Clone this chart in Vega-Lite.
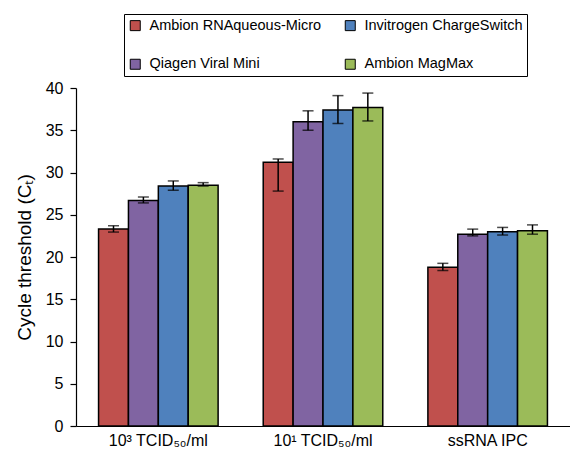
{
  "$schema": "https://vega.github.io/schema/vega-lite/v6.json",
  "autosize": "none",
  "width": 494,
  "height": 338,
  "padding": {"left": 76, "top": 88, "right": 0, "bottom": 26},
  "background": "white",
  "config": {
    "font": "Liberation Sans",
    "view": {"stroke": null},
    "axis": {"grid": false, "domainColor": "black", "tickColor": "black", "labelColor": "black", "titleColor": "black", "domainWidth": 1.2, "tickWidth": 1.2}
  },
  "data": {
    "values": [
      {"group": "10³ TCID₅₀/ml", "method": "Ambion RNAqueous-Micro", "ct": 23.3, "lo": 22.95, "hi": 23.7},
      {"group": "10³ TCID₅₀/ml", "method": "Qiagen Viral Mini", "ct": 26.7, "lo": 26.4, "hi": 27.1},
      {"group": "10³ TCID₅₀/ml", "method": "Invitrogen ChargeSwitch", "ct": 28.4, "lo": 27.9, "hi": 29.0},
      {"group": "10³ TCID₅₀/ml", "method": "Ambion MagMax", "ct": 28.5, "lo": 28.4, "hi": 28.8},
      {"group": "10¹ TCID₅₀/ml", "method": "Ambion RNAqueous-Micro", "ct": 31.2, "lo": 27.8, "hi": 31.6},
      {"group": "10¹ TCID₅₀/ml", "method": "Qiagen Viral Mini", "ct": 36.0, "lo": 35.0, "hi": 37.3},
      {"group": "10¹ TCID₅₀/ml", "method": "Invitrogen ChargeSwitch", "ct": 37.4, "lo": 35.8, "hi": 39.1},
      {"group": "10¹ TCID₅₀/ml", "method": "Ambion MagMax", "ct": 37.7, "lo": 36.1, "hi": 39.4},
      {"group": "ssRNA IPC", "method": "Ambion RNAqueous-Micro", "ct": 18.8, "lo": 18.4, "hi": 19.25},
      {"group": "ssRNA IPC", "method": "Qiagen Viral Mini", "ct": 22.7, "lo": 22.5, "hi": 23.3},
      {"group": "ssRNA IPC", "method": "Invitrogen ChargeSwitch", "ct": 23.0, "lo": 22.6, "hi": 23.5},
      {"group": "ssRNA IPC", "method": "Ambion MagMax", "ct": 23.1, "lo": 22.7, "hi": 23.8}
    ]
  },
  "encoding": {
    "x": {
      "field": "group", "type": "nominal", "sort": null,
      "scale": {"paddingInner": 0.274, "paddingOuter": 0.137},
      "axis": {"title": null, "labelAngle": 0, "labelFontSize": 16, "ticks": false, "labelPadding": 6}
    },
    "xOffset": {
      "field": "method", "type": "nominal",
      "scale": {"domain": ["Ambion RNAqueous-Micro", "Qiagen Viral Mini", "Invitrogen ChargeSwitch", "Ambion MagMax"], "paddingInner": 0, "paddingOuter": 0}
    }
  },
  "layer": [
    {
      "mark": {"type": "bar", "stroke": "black", "strokeWidth": 1.5},
      "encoding": {
        "y": {
          "field": "ct", "type": "quantitative",
          "scale": {"domain": [0, 40], "nice": false},
          "axis": {"title": "Cycle threshold (Cₜ)", "titleFontSize": 19, "titleFontWeight": "normal", "titlePadding": 11, "labelFontSize": 16, "values": [0,5,10,15,20,25,30,35,40], "tickSize": 6, "labelPadding": 7}
        },
        "color": {
          "field": "method", "type": "nominal",
          "scale": {
            "domain": ["Ambion RNAqueous-Micro", "Qiagen Viral Mini", "Invitrogen ChargeSwitch", "Ambion MagMax"],
            "range": ["#C0504D", "#8064A2", "#4F81BD", "#9BBB59"]
          },
          "legend": {
            "title": null, "orient": "none", "legendX": 48, "legendY": -74,
            "columns": 2, "symbolType": "square", "symbolSize": 100,
            "symbolStrokeColor": "black", "symbolStrokeWidth": 1,
            "labelFontSize": 14.5, "labelColor": "black", "labelLimit": 300,
            "strokeColor": "black", "padding": 4, "rowPadding": 23, "columnPadding": 21,
            "fillColor": "white", "labelOffset": 7
          }
        }
      }
    },
    {
      "mark": {"type": "rule", "color": "black", "strokeWidth": 1.5},
      "encoding": {
        "y": {"field": "lo", "type": "quantitative"},
        "y2": {"field": "hi"}
      }
    },
    {
      "mark": {"type": "tick", "color": "black", "thickness": 1.5, "size": 11},
      "encoding": {"y": {"field": "lo", "type": "quantitative"}}
    },
    {
      "mark": {"type": "tick", "color": "black", "thickness": 1.5, "size": 11},
      "encoding": {"y": {"field": "hi", "type": "quantitative"}}
    }
  ]
}
